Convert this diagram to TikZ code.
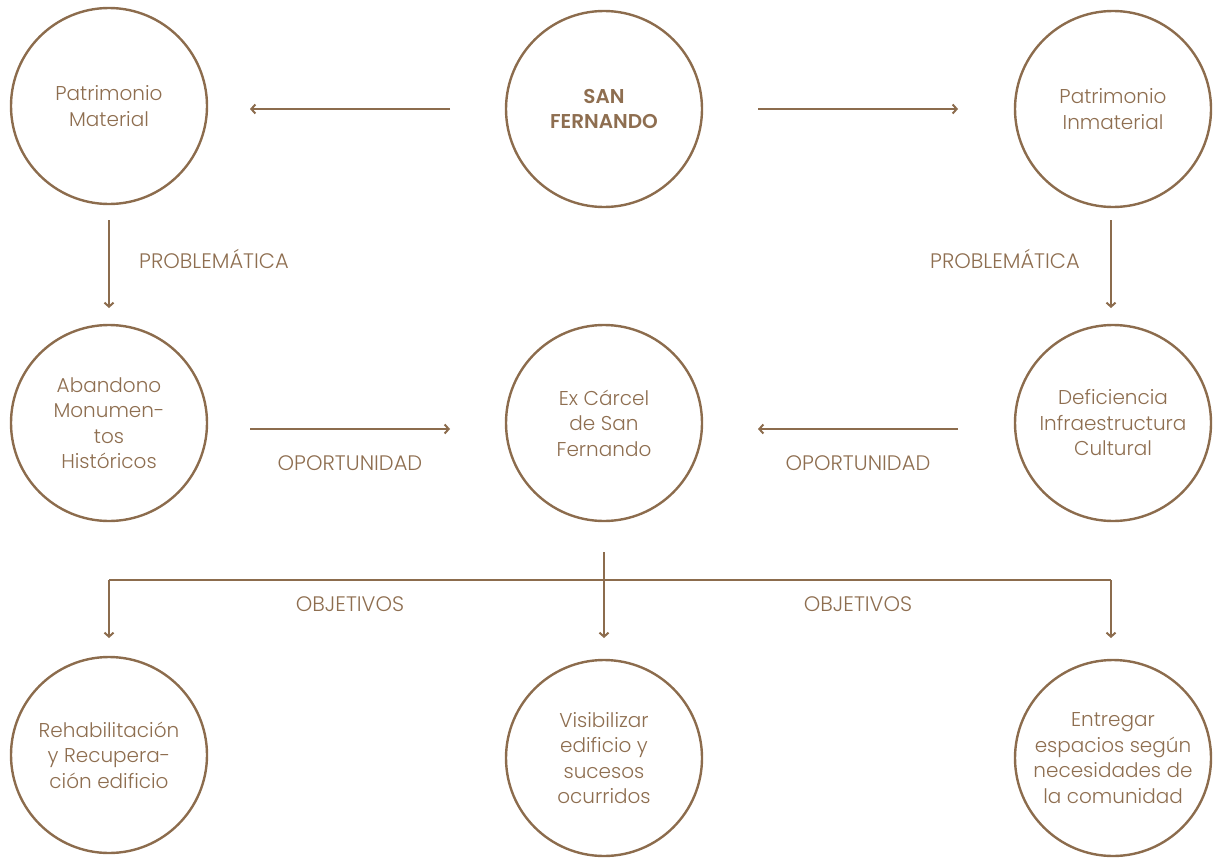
\documentclass[tikz,border=0pt]{standalone}
\usepackage{fontspec}
\setmainfont{Poppins}[UprightFont=* Light, BoldFont=* SemiBold]
\usetikzlibrary{arrows.meta}
\definecolor{brn}{HTML}{8C6C4D}
\definecolor{brntxt}{HTML}{8E6E50}
\begin{document}
\begin{tikzpicture}[x=1pt,y=-1pt,
  circ/.style={circle,draw=brn,line width=2.4pt,minimum size=196pt,inner sep=0pt,
    align=center,text=brntxt,font=\fontsize{20}{25.5}\selectfont},
  lbl/.style={text=brntxt,font=\fontsize{21}{22}\selectfont,inner sep=0pt},
  conn/.style={draw=brn,line width=2.4pt,-{Straight Barb[length=4pt,width=9pt,line width=2pt]}},
  plain/.style={draw=brn,line width=2.4pt}]
\useasboundingbox (0,0) rectangle (1214,859);
% row 1
\node[circ] (pm) at (109,106) {Patrimonio\\Material};
\node[circ] (sf) at (604,109) {\textbf{SAN}\\\textbf{FERNANDO}};
\node[circ] (pi) at (1113,109) {Patrimonio\\Inmaterial};
% row 2
\node[circ] (ab) at (109,423) {Abandono\\Monumen-\\tos\\Históricos};
\node[circ] (ex) at (604,423) {Ex Cárcel\\de San\\Fernando};
\node[circ] (de) at (1113,423) {Deficiencia\\Infraestructura\\Cultural};
% row 3
\node[circ] (re) at (109,755) {Rehabilitación\\y Recupera-\\ción edificio};
\node[circ] (vi) at (604,758) {Visibilizar\\edificio y\\sucesos\\ocurridos};
\node[circ] (en) at (1113,758) {Entregar\\espacios según\\necesidades de\\la comunidad};
% connector ends
\coordinate (a1s) at (450,109); \coordinate (a1e) at (250,109);
\coordinate (a2s) at (758,109); \coordinate (a2e) at (958,109);
\coordinate (a3s) at (109,220); \coordinate (a3e) at (109,308);
\coordinate (a4s) at (1111,220); \coordinate (a4e) at (1111,308);
\coordinate (a5s) at (250,429); \coordinate (a5e) at (450,429);
\coordinate (a6s) at (958,429); \coordinate (a6e) at (758,429);
\coordinate (b0) at (604,552); \coordinate (b0e) at (604,638);
\coordinate (bl) at (109,580); \coordinate (ble) at (109,638);
\coordinate (br) at (1111,580); \coordinate (bre) at (1111,638);
\draw[conn] (a1s) -- (a1e);
\draw[conn] (a2s) -- (a2e);
\draw[conn] (a3s) -- (a3e);
\draw[conn] (a4s) -- (a4e);
\draw[conn] (a5s) -- (a5e);
\draw[conn] (a6s) -- (a6e);
\draw[conn] (b0) -- (b0e);
\draw[plain] (bl) -- (br);
\draw[conn] (bl) -- (ble);
\draw[conn] (br) -- (bre);
% labels
\node[lbl] (l1) at (214,259) {PROBLEMÁTICA};
\node[lbl] (l2) at (1005,259) {PROBLEMÁTICA};
\node[lbl] (l3) at (350,463) {OPORTUNIDAD};
\node[lbl] (l4) at (858,463) {OPORTUNIDAD};
\node[lbl] (l5) at (350,604) {OBJETIVOS};
\node[lbl] (l6) at (858,604) {OBJETIVOS};
\end{tikzpicture}
\end{document}
